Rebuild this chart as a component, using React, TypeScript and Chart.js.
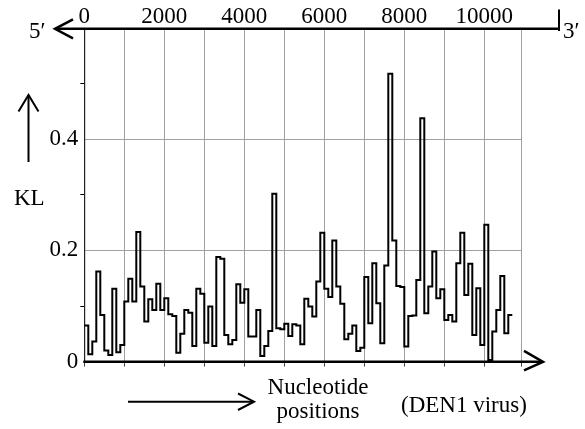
import React, { useEffect, useRef } from 'react';
import { Chart, registerables } from 'chart.js';

Chart.register(...registerables);

// Window step (nucleotides) and KL values per window (DEN1 virus)
const WINDOW_STEP = 100;
const KL_VALUES = [
  0.065, 0.013, 0.036, 0.162, 0.084, 0.020, 0.012, 0.131, 0.017, 0.030,
  0.108, 0.149, 0.108, 0.233, 0.135, 0.072, 0.112, 0.093, 0.140, 0.093,
  0.114, 0.085, 0.082, 0.016, 0.050, 0.093, 0.088, 0.028, 0.131, 0.122,
  0.034, 0.099, 0.028, 0.188, 0.185, 0.048, 0.031, 0.039, 0.139, 0.106,
  0.130, 0.045, 0.045, 0.093, 0.010, 0.028, 0.055, 0.302, 0.060, 0.058,
  0.068, 0.046, 0.067, 0.065, 0.031, 0.113, 0.099, 0.081, 0.144, 0.232,
  0.131, 0.116, 0.218, 0.135, 0.104, 0.040, 0.050, 0.065, 0.019, 0.025,
  0.152, 0.069, 0.177, 0.105, 0.033, 0.173, 0.518, 0.218, 0.136, 0.134,
  0.027, 0.082, 0.083, 0.147, 0.438, 0.087, 0.135, 0.198, 0.114, 0.130,
  0.075, 0.084, 0.072, 0.177, 0.232, 0.120, 0.176, 0.048, 0.132, 0.030,
  0.246, 0.003, 0.054, 0.093, 0.154, 0.051, 0.084,
];

const X_MAX = 10935;
const X_GRID_TICKS = [0, 1000, 2000, 3000, 4000, 5000, 6000, 7000, 8000, 9000, 10000, 10935];
const X_LABEL_TICKS = [0, 2000, 4000, 6000, 8000, 10000];
const Y_TICKS = [0, 0.1, 0.2, 0.3, 0.4, 0.5, 0.6];
const Y_LABELS: Record<number, string> = { 0: '0', 2: '0.2', 4: '0.4' };
const Y_GRID_TENTHS = [2, 4];
const Y_MINOR_TENTHS = [1, 3, 5];

const FONT_FAMILY = '"Liberation Serif", "Times New Roman", serif';
const GRID_COLOR = '#a0a0a0';
const CLEAR = 'rgba(0,0,0,0)';

const tenths = (v: number) => Math.round(v * 10);

const decorPlugin = {
  id: 'decor',
  afterDraw(chart: any) {
    const { ctx, chartArea: a } = chart;
    ctx.save();
    ctx.strokeStyle = '#000';
    ctx.fillStyle = '#000';
    ctx.lineCap = 'butt';
    ctx.lineJoin = 'miter';

    const seg = (pts: number[][], w: number) => {
      ctx.lineWidth = w;
      ctx.beginPath();
      ctx.moveTo(pts[0][0], pts[0][1]);
      for (let i = 1; i < pts.length; i++) ctx.lineTo(pts[i][0], pts[i][1]);
      ctx.stroke();
    };

    // top axis (5' -> 3')
    const ty = a.top + 0.7;
    seg([[56, ty], [559, ty]], 2.5);
    seg([[73, ty - 9.5], [55, ty], [73, ty + 9.5]], 2.5);
    seg([[559, 9.5], [559, 31]], 2);

    // bottom axis
    const by = a.bottom + 0.2;
    seg([[a.left - 1, by], [542, by]], 2.5);
    seg([[524, by - 11], [543, by], [524, by + 8.5]], 2.5);

    // KL up arrow
    seg([[28.5, 162], [28.5, 96]], 2);
    seg([[18.5, 111.5], [28.5, 95], [38.5, 111.5]], 2);

    // nucleotide arrow
    seg([[128, 401.7], [253, 401.7]], 2);
    seg([[238, 393.5], [254, 401.7], [238, 410]], 2);

    ctx.font = `23px ${FONT_FAMILY}`;
    ctx.textBaseline = 'alphabetic';
    ctx.textAlign = 'left';
    ctx.fillText('5\u2032', 29, 38);
    ctx.fillText('3\u2032', 563, 38);
    ctx.fillText('KL', 14, 205);
    ctx.fillText('(DEN1 virus)', 401, 412);
    ctx.textAlign = 'center';
    ctx.fillText('Nucleotide', 318, 394);
    ctx.fillText('positions', 318, 418);
    ctx.restore();
  },
};

export default function App() {
  const ref = useRef<HTMLCanvasElement>(null);

  useEffect(() => {
    document.body.style.margin = '0';
    const points = KL_VALUES.map((v, i) => ({ x: i * WINDOW_STEP, y: v }));
    points.push({ x: KL_VALUES.length * WINDOW_STEP, y: KL_VALUES[KL_VALUES.length - 1] });

    const tickFont = { family: FONT_FAMILY, size: 23 };

    const chart = new Chart(ref.current as HTMLCanvasElement, {
      type: 'line',
      data: {
        datasets: [
          {
            data: points,
            stepped: 'before',
            borderColor: '#000',
            borderWidth: 2,
            pointRadius: 0,
            fill: false,
            borderJoinStyle: 'miter',
            xAxisID: 'x',
            yAxisID: 'y',
          },
        ],
      },
      options: {
        animation: false,
        responsive: false,
        events: [],
        layout: { padding: { left: 0, top: 0, right: 63.3, bottom: 57.4 } },
        plugins: { legend: { display: false }, tooltip: { enabled: false } },
        scales: {
          x: {
            type: 'linear',
            position: 'top',
            min: 0,
            max: X_MAX,
            afterBuildTicks: (s: any) => {
              s.ticks = X_GRID_TICKS.map((v) => ({ value: v }));
            },
            afterFit: (s: any) => {
              s.height = 28.1;
            },
            grid: {
              color: (c: any) => (c.tick && c.tick.value === 0 ? CLEAR : GRID_COLOR),
              lineWidth: 1,
              drawTicks: false,
            },
            border: { display: false },
            ticks: {
              callback: (v: any) => (X_LABEL_TICKS.includes(v) ? String(v) : ''),
              font: tickFont,
              color: '#000',
              padding: -3,
              maxRotation: 0,
              autoSkip: false,
            },
          },
          x2: {
            type: 'linear',
            position: 'bottom',
            min: 0,
            max: X_MAX,
            afterBuildTicks: (s: any) => {
              s.ticks = X_GRID_TICKS.map((v) => ({ value: v }));
            },
            afterFit: (s: any) => {
              s.height = 10;
            },
            grid: {
              drawOnChartArea: false,
              drawTicks: true,
              tickLength: 5,
              tickColor: '#444',
              color: '#444',
            },
            border: { display: false },
            ticks: { display: false },
          },
          y: {
            type: 'linear',
            position: 'left',
            min: 0,
            max: 0.6,
            afterBuildTicks: (s: any) => {
              s.ticks = Y_TICKS.map((v) => ({ value: v }));
            },
            afterFit: (s: any) => {
              s.width = 84.3;
            },
            grid: {
              color: (c: any) => (c.tick && Y_GRID_TENTHS.includes(tenths(c.tick.value)) ? GRID_COLOR : CLEAR),
              lineWidth: 1,
              drawTicks: true,
              tickLength: 4,
              tickColor: (c: any) => (c.tick && Y_MINOR_TENTHS.includes(tenths(c.tick.value)) ? '#000' : CLEAR),
            },
            border: { display: true, color: '#222', width: 1.2 },
            ticks: {
              callback: (v: any) => Y_LABELS[tenths(v)] ?? '',
              font: tickFont,
              color: '#000',
              padding: 2,
              autoSkip: false,
            },
          },
        },
      },
      plugins: [decorPlugin],
    } as any);

    return () => chart.destroy();
  }, []);

  return (
    <div style={{ width: 585, height: 429, position: 'relative' }}>
      <canvas ref={ref} width={585} height={429} style={{ display: 'block' }} />
    </div>
  );
}
